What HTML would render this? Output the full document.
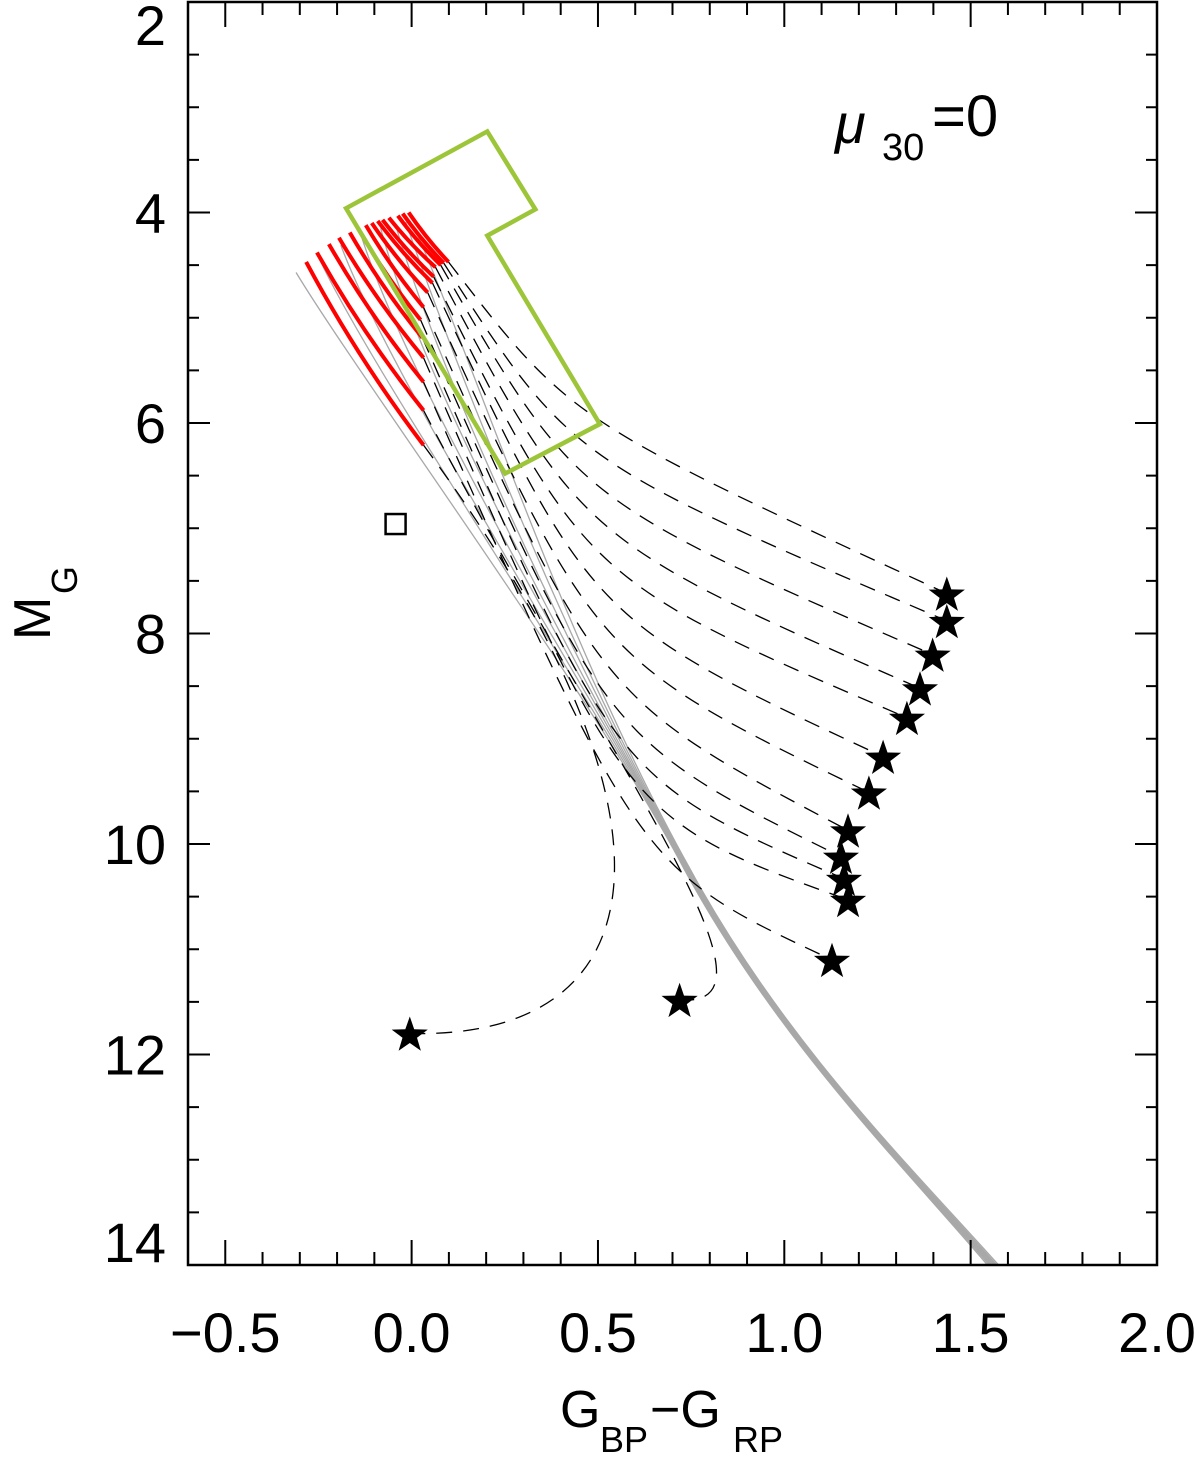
<!DOCTYPE html>
<html><head><meta charset="utf-8"><style>
html,body{margin:0;padding:0;background:#fff;}
svg{display:block;}
text{font-family:"Liberation Sans",sans-serif;fill:#000;}
</style></head><body>
<svg id="chart" width="1200" height="1457" viewBox="0 0 1200 1457" xmlns="http://www.w3.org/2000/svg">
<g id="plot"></g>
<text x="835" y="143" font-size="56" font-style="italic" font-family="Liberation Serif, serif">μ</text>
<text x="882" y="160" font-size="38">30</text>
<text x="932" y="136" font-size="58">=0</text>
<text x="560" y="1427" font-size="52">G</text>
<text x="600" y="1452" font-size="36">BP</text>
<text x="650" y="1427" font-size="52">−G</text>
<text x="733" y="1452" font-size="36">RP</text>
<g transform="translate(50,640) rotate(-90)">
<text x="0" y="0" font-size="52">M</text>
<text x="46" y="27" font-size="36">G</text>
</g>
</svg>
<script>
// axis ticks
const xTicks=[-0.5,0.0,0.5,1.0,1.5,2.0];
const xTickLabels=["−0.5","0.0","0.5","1.0","1.5","2.0"];
const yTicks=[2,4,6,8,10,12,14];
const yTickLabels=["2","4","6","8","10","12","14"];
// stars (end points)
const starX=[1.436,1.436,1.398,1.364,1.329,1.265,1.227,1.171,1.152,1.160,1.171,1.128,0.719,-0.005];
const starY=[7.62,7.88,8.20,8.52,8.80,9.17,9.51,9.87,10.12,10.33,10.53,11.10,11.48,11.80];
// red track segments
const redX0=[-0.008,-0.024,-0.037,-0.061,-0.078,-0.091,-0.107,-0.123,-0.144,-0.166,-0.195,-0.222,-0.254,-0.283];
const redY0=[4.00,4.01,4.03,4.05,4.07,4.08,4.10,4.12,4.15,4.19,4.24,4.30,4.38,4.47];
const redX1=[0.099,0.086,0.078,0.064,0.059,0.056,0.043,0.032,0.024,0.029,0.032,0.032,0.032,0.032];
const redY1=[4.47,4.48,4.50,4.52,4.61,4.67,4.76,4.90,5.02,5.19,5.38,5.61,5.88,6.21];
// dashed track control points
const dashC1X=[0.425,0.425,0.439,0.452,0.465,0.479,0.492,0.505,0.519,0.545,0.572,0.612,0.520,0.773];
const dashC1Y=[5.97,6.35,6.73,7.11,7.49,7.87,8.25,8.63,9.01,9.39,9.77,10.25,9.20,9.77];
const dashC2X=[0.425,0.425,0.439,0.452,0.465,0.479,0.492,0.505,0.519,0.545,0.572,0.612,1.040,0.666];
const dashC2Y=[5.97,6.35,6.73,7.11,7.49,7.87,8.25,8.63,9.01,9.39,9.77,10.25,11.58,11.86];
// grey curves
const greyX0=[-0.310,-0.249,-0.190,-0.136,-0.083,-0.043,-0.016,0.011];
const greyY0=[4.57,4.43,4.31,4.21,4.15,4.12,4.09,4.17];
const greyC1X=[-0.136,-0.096,-0.056,-0.016,0.024,0.078,0.131,0.184];
const greyC1Y=[5.59,5.59,5.59,5.59,5.59,5.59,5.59,5.59];
const greyC2X=[0.489,0.479,0.468,0.457,0.447,0.436,0.425,0.417];
const greyC2Y=[8.60,8.54,8.47,8.40,8.34,8.27,8.20,8.14];
const greyJX=[0.730,0.732,0.734,0.736,0.738,0.740,0.743,0.746];
const greyJY=[10.23,10.23,10.23,10.23,10.23,10.23,10.23,10.23];
const greyD1X=[0.979,0.981,0.983,0.985,0.987,0.989,0.992,0.995];
const greyD1Y=[11.86,11.86,11.86,11.86,11.86,11.86,11.86,11.86];
const greyD2X=[1.313,1.315,1.317,1.319,1.321,1.323,1.326,1.329];
const greyD2Y=[13.03,13.03,13.03,13.03,13.03,13.03,13.03,13.03];
const greyEX=[1.545,1.550,1.554,1.558,1.562,1.566,1.570,1.575];
const greyEY=[14.0,14.0,14.0,14.0,14.0,14.0,14.0,14.0];
// green box polygon
const boxX=[-0.176,0.203,0.332,0.203,0.505,0.251];
const boxY=[3.96,3.23,3.97,4.22,6.01,6.48];
// square marker
const squareX=[-0.043];
const squareY=[6.96];

const L=188,R=1157,T=2,B=1265,XMIN=-0.6,XMAX=2.0,YMIN=2,YMAX=14;
const sx=v=>L+(v-XMIN)/(XMAX-XMIN)*(R-L);
const sy=v=>T+(v-YMIN)/(YMAX-YMIN)*(B-T);
const NS="http://www.w3.org/2000/svg";
const plot=document.getElementById('plot');
function mk(tag,attrs,parent){const e=document.createElementNS(NS,tag);for(const k in attrs)e.setAttribute(k,attrs[k]);(parent||plot).appendChild(e);return e;}

for(let i=0;i<greyX0.length;i++){
  const d=`M${sx(greyX0[i])},${sy(greyY0[i])} C${sx(greyC1X[i])},${sy(greyC1Y[i])} ${sx(greyC2X[i])},${sy(greyC2Y[i])} ${sx(greyJX[i])},${sy(greyJY[i])} C${sx(greyD1X[i])},${sy(greyD1Y[i])} ${sx(greyD2X[i])},${sy(greyD2Y[i])} ${sx(greyEX[i])},${sy(greyEY[i])}`;
  const p=mk('path',{d:d,fill:'none',stroke:'#a8a8a8','stroke-width':1.3});
  
  
}
for(let i=0;i<starX.length;i++){
  const d=`M${sx(redX1[i])},${sy(redY1[i])} C${sx(dashC1X[i])},${sy(dashC1Y[i])} ${sx(dashC2X[i])},${sy(dashC2Y[i])} ${sx(starX[i])},${sy(starY[i])}`;
  const p=mk('path',{d:d,fill:'none',stroke:'#000','stroke-width':1.3,'stroke-dasharray':'16 11'});
  
  
}
for(let i=0;i<redX0.length;i++){
  const x0=sx(redX0[i]),y0=sy(redY0[i]),x1=sx(redX1[i]),y1=sy(redY1[i]);
  const mx=(x0+x1)/2-(y1-y0)*0.04,my=(y0+y1)/2+(x1-x0)*0.04;
  const p=mk('path',{d:`M${x0},${y0} Q${mx},${my} ${x1},${y1}`,fill:'none',stroke:'#ff0000','stroke-width':4});
  
  
}
{
  const pts=boxX.map((v,i)=>sx(v)+','+sy(boxY[i])).join(' ');
  const g=mk('polygon',{points:pts,fill:'none',stroke:'#9dc53a','stroke-width':4.5});
  
  
}
for(let i=0;i<squareX.length;i++){
  const s=mk('rect',{x:sx(squareX[i])-10,y:sy(squareY[i])-10,width:20,height:20,fill:'none',stroke:'#000','stroke-width':2.5});
  
  
}
function starPath(cx,cy,r){let d='';for(let k=0;k<10;k++){const rr=k%2?r*0.4:r;const a=-Math.PI/2+k*Math.PI/5;d+=(k?'L':'M')+(cx+rr*Math.cos(a)).toFixed(1)+','+(cy+rr*Math.sin(a)).toFixed(1);}return d+'Z';}
for(let i=0;i<starX.length;i++){
  const s=mk('path',{d:starPath(sx(starX[i]),sy(starY[i])+2,19),fill:'#000'});
  
  
}
{
  const f=mk('rect',{x:L,y:T,width:R-L,height:B-T,fill:'none',stroke:'#000','stroke-width':2.5});
  
  
}
for(let k=-5;k<=20;k++){
  const v=k/10,x=sx(v);if(x<L+1||x>R-1)continue;
  const major=k%5===0,len=major?25:13;
  const t=mk('line',{x1:x,y1:B,x2:x,y2:B-len,stroke:'#000','stroke-width':2});
  
  
  const t2=mk('line',{x1:x,y1:T,x2:x,y2:T+len,stroke:'#000','stroke-width':2});
  
  
}
xTicks.forEach((v,i)=>{
  const t=mk('text',{x:sx(v),y:1352,'font-size':56,'text-anchor':'middle'});
  t.textContent=xTickLabels[i];
  
  
});
for(let k=4;k<=28;k++){
  const v=k/2,y=sy(v);if(y<T+1||y>B-1)continue;
  const major=k%4===0,len=major?22:11;
  const t=mk('line',{x1:L,y1:y,x2:L+len,y2:y,stroke:'#000','stroke-width':2});
  
  
  const t2=mk('line',{x1:R,y1:y,x2:R-len,y2:y,stroke:'#000','stroke-width':2});
  
  
}
yTicks.forEach((v,i)=>{
  let y=sy(v)+20;if(i===0)y=45;if(i===yTicks.length-1)y=1262;
  const t=mk('text',{x:166,y:y,'font-size':56,'text-anchor':'end'});
  t.textContent=yTickLabels[i];
  
  
});
</script>
</body></html>
